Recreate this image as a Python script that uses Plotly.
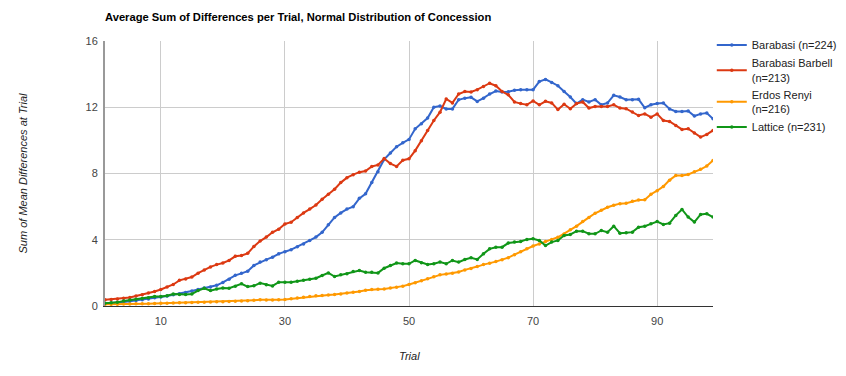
import plotly.graph_objects as go

trials = list(range(1, 100))

barabasi = [0.15, 0.17, 0.2, 0.24, 0.28, 0.33, 0.38, 0.43, 0.5, 0.55,
            0.6, 0.68, 0.74, 0.82, 0.9, 1.0, 1.08, 1.15, 1.25, 1.42,
            1.62, 1.85, 1.97, 2.1, 2.45, 2.65, 2.8, 2.95, 3.15, 3.28,
            3.4, 3.58, 3.75, 3.96, 4.16, 4.45, 4.9, 5.35, 5.62, 5.85,
            6.0, 6.5, 6.78, 7.45, 8.1, 8.85, 9.24, 9.62, 9.85, 10.06,
            10.7, 11.0, 11.35, 12.0, 12.07, 11.9, 11.9, 12.45, 12.55, 12.6,
            12.35, 12.55, 12.8, 12.98, 12.92, 12.94, 13.02, 13.05, 13.06, 13.06,
            13.55, 13.68, 13.5, 13.3, 12.95, 12.62, 12.22, 12.46, 12.32, 12.46,
            12.15, 12.26, 12.72, 12.62, 12.46, 12.46, 12.48, 11.97, 12.15, 12.22,
            12.26, 11.9, 11.75, 11.75, 11.77, 11.47, 11.6, 11.65, 11.3]

barbell = [0.37, 0.4, 0.43, 0.47, 0.52, 0.6, 0.68, 0.78, 0.88, 1.0,
           1.14, 1.3, 1.55, 1.63, 1.75, 1.98, 2.18, 2.36, 2.5, 2.6,
           2.75, 3.0, 3.05, 3.18, 3.6, 3.92, 4.16, 4.45, 4.64, 4.95,
           5.06, 5.35, 5.62, 5.85, 6.1, 6.45, 6.75, 7.05, 7.45, 7.75,
           7.93, 8.08, 8.15, 8.42, 8.52, 8.9, 8.6, 8.43, 8.8, 8.89,
           9.38, 9.98, 10.6, 11.2, 11.7, 12.5, 12.26, 12.8, 12.95, 12.92,
           13.06, 13.25, 13.45, 13.3, 12.95, 12.75, 12.32, 12.22, 12.15, 12.38,
           12.15, 12.36, 12.26, 11.86, 12.18, 11.91, 12.22, 12.32, 11.95, 12.05,
           12.05, 12.05, 12.15, 11.95, 11.91, 11.71, 11.5, 11.6, 11.4, 11.6,
           11.2, 11.14, 10.9, 10.66, 10.7, 10.44, 10.2, 10.36, 10.6]

erdos = [0.1, 0.1, 0.11, 0.12, 0.12, 0.13, 0.14, 0.14, 0.15, 0.16,
         0.17, 0.18, 0.19, 0.2, 0.21, 0.22, 0.23, 0.24, 0.25, 0.26,
         0.27, 0.28, 0.3, 0.32, 0.35, 0.37, 0.36, 0.36, 0.38, 0.4,
         0.44, 0.48, 0.53, 0.58, 0.62, 0.64, 0.66, 0.69, 0.73, 0.78,
         0.83, 0.88, 0.95, 0.99, 1.01, 1.02, 1.08, 1.13, 1.2, 1.3,
         1.4, 1.52, 1.64, 1.76, 1.88, 1.93, 1.98, 2.05, 2.18, 2.27,
         2.38, 2.5, 2.58, 2.68, 2.8, 2.92, 3.1, 3.28, 3.45, 3.62,
         3.75, 3.9, 4.02, 4.15, 4.35, 4.6, 4.82, 5.1, 5.35, 5.6,
         5.78, 5.96, 6.08, 6.18, 6.21, 6.32, 6.4, 6.42, 6.75, 6.96,
         7.22, 7.6, 7.88, 7.88, 7.94, 8.1, 8.25, 8.45, 8.79]

lattice = [0.17, 0.19, 0.22, 0.3, 0.36, 0.41, 0.45, 0.5, 0.58, 0.57,
           0.62, 0.72, 0.69, 0.69, 0.73, 0.93, 1.07, 0.93, 1.03, 1.09,
           1.07, 1.2, 1.34, 1.17, 1.22, 1.38, 1.28, 1.21, 1.44, 1.44,
           1.44, 1.5, 1.55, 1.62, 1.68, 1.84, 2.0, 1.78, 1.88, 1.94,
           2.08, 2.14, 2.04, 2.04, 2.0, 2.28, 2.45, 2.59, 2.55, 2.55,
           2.75, 2.61, 2.51, 2.55, 2.65, 2.55, 2.75, 2.65, 2.81, 2.91,
           2.81, 3.15, 3.45, 3.55, 3.55, 3.8, 3.86, 3.9, 4.02, 4.06,
           3.96, 3.65, 3.86, 3.96, 4.26, 4.32, 4.52, 4.52, 4.36, 4.36,
           4.56, 4.46, 4.82, 4.4, 4.42, 4.46, 4.76, 4.82, 4.96, 5.1,
           4.92, 5.0, 5.47, 5.83, 5.37, 5.07, 5.53, 5.57, 5.37]

series_names = ["Barabasi (n=224)", "Barabasi Barbell<br>(n=213)",
                "Erdos Renyi<br>(n=216)", "Lattice (n=231)"]
series_values = [barabasi, barbell, erdos, lattice]
colors = ["#3366cc", "#dc3912", "#ff9900", "#109618"]

x_ticks = [10, 30, 50, 70, 90]
y_ticks = [0, 4, 8, 12, 16]

FONT = "Liberation Sans, Arial, sans-serif"

# page body has an 8px margin, so figure coordinates are offset by 8px
L, T, PW, PH = 97, 33, 608, 265

fig = go.Figure()
for name, vals, col in zip(series_names, series_values, colors):
    fig.add_trace(go.Scatter(
        x=trials, y=vals, name=name, mode="lines+markers",
        line=dict(color=col, width=2),
        marker=dict(color=col, size=3.5),
    ))

fig.update_layout(
    width=846, height=376,
    margin=dict(l=L, r=846 - L - PW, t=T, b=376 - T - PH, autoexpand=False),
    paper_bgcolor="white", plot_bgcolor="white",
    font=dict(family=FONT, size=11, color="#222222"),
    title=dict(text="<b>Average Sum of Differences per Trial, Normal Distribution of Concession</b>",
               x=L / 846, xanchor="left", y=1 - 9 / 376, yanchor="middle",
               font=dict(family=FONT, size=11.2, color="#000000")),
    showlegend=True,
    legend=dict(x=0.998, xanchor="left", y=1.04, yanchor="top",
                font=dict(family=FONT, size=11, color="#222222"),
                tracegroupgap=0, itemwidth=30, bgcolor="rgba(0,0,0,0)"),
    xaxis=dict(range=[1, 99], tickvals=x_ticks, ticktext=[str(t) for t in x_ticks],
               showgrid=True, gridcolor="#cccccc", gridwidth=1,
               zeroline=False, showline=True, linecolor="#333333", linewidth=1,
               ticks="", ticklabelstandoff=5,
               tickfont=dict(family=FONT, size=11, color="#444444")),
    yaxis=dict(range=[0, 16], tickvals=y_ticks, ticktext=[str(t) for t in y_ticks],
               showgrid=True, gridcolor="#cccccc", gridwidth=1,
               zeroline=False, showline=True, linecolor="#999999", linewidth=2,
               ticks="", ticklabelstandoff=3,
               tickfont=dict(family=FONT, size=11, color="#444444")),
    annotations=[
        dict(text="<i>Trial</i>", xref="paper", yref="paper", x=0.5, y=(305.5 - 355) / PH,
             showarrow=False, xanchor="center", yanchor="middle",
             font=dict(family=FONT, size=11, color="#222222")),
        dict(text="<i>Sum of Mean Differences at Trial</i>", xref="paper", yref="paper",
             x=(22 - 105) / PW, y=0.5, textangle=-90, showarrow=False,
             xanchor="center", yanchor="middle",
             font=dict(family=FONT, size=11, color="#222222")),
    ],
)

fig.write_html("out.html")
